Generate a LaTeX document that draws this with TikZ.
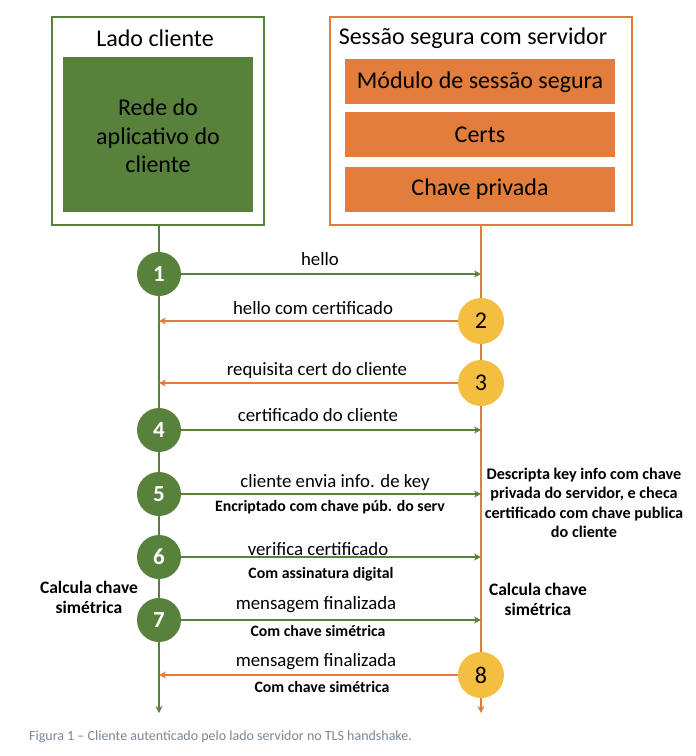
\documentclass[tikz,border=0pt]{standalone}
\usepackage{fontspec}
\setmainfont{Carlito}
\usetikzlibrary{arrows.meta}
\definecolor{cgreen}{HTML}{58813C}
\definecolor{corange}{HTML}{E27D3C}
\definecolor{cyellow}{HTML}{F4BE41}
\definecolor{ccap}{HTML}{7A8898}
\tikzset{
  gcircle/.style={circle, fill=cgreen, minimum size=44pt, inner sep=0pt, text=white, font=\bfseries\fontsize{23}{23}\selectfont},
  ycircle/.style={circle, fill=cyellow, minimum size=46pt, inner sep=0pt, text=black, font=\fontsize{24}{24}\selectfont},
  garrow/.style={draw=cgreen, line width=1.8pt, -{Stealth[length=7pt,width=7pt]}},
  oarrow/.style={draw=corange, line width=1.8pt, -{Stealth[length=7pt,width=7pt]}},
  msg/.style={font=\fontsize{18.8}{20}\selectfont, inner sep=0pt},
  sub/.style={font=\bfseries\fontsize{15.8}{18}\selectfont, inner sep=0pt},
  note/.style={font=\bfseries\fontsize{16.2}{19.3}\selectfont, align=center, inner sep=0pt},
  note2/.style={font=\bfseries\fontsize{17.5}{20}\selectfont, align=center, inner sep=0pt},
  big/.style={font=\fontsize{24}{28.5}\selectfont, align=center, inner sep=0pt},
}
\begin{document}
\begin{tikzpicture}[x=1pt,y=-1pt]
\useasboundingbox (0,0) rectangle (696,756);
\fill[white] (0,0) rectangle (696,756);
% boxes
\draw[cgreen, line width=2pt] (52,17) rectangle (264,225);
\fill[cgreen] (63,57) rectangle (253,212);
\node[big] (ltitle) at (155,38) {Lado cliente};
\node[big] (lapp) at (158,136) {Rede do\\aplicativo do\\cliente};
\draw[corange, line width=2pt] (330,17) rectangle (632,225);
\node[big] (rtitle) at (473,38) {Sessão segura com servidor};
\fill[corange] (345,59) rectangle (615,104);
\node[big] (mod) at (480,82) {Módulo de sessão segura};
\fill[corange] (345,112) rectangle (615,157);
\node[big] (certs) at (480,135) {Certs};
\fill[corange] (345,167) rectangle (615,212);
\node[big] (chave) at (480,189) {Chave privada};
% lifelines
\coordinate (ltop) at (159,226);
\coordinate (lbot) at (159,713);
\coordinate (rtop) at (481,226);
\coordinate (rbot) at (481,713);
\draw[cgreen, line width=2pt, -{Stealth[length=7pt,width=7pt]}] (ltop) -- (lbot);
\draw[corange, line width=2pt, -{Stealth[length=7pt,width=7pt]}] (rtop) -- (rbot);
% circles
\node[gcircle] (c1) at (159,274) {1};
\node[ycircle] (c2) at (481,321) {2};
\node[ycircle] (c3) at (481,383) {3};
\node[gcircle] (c4) at (159,430) {4};
\node[gcircle] (c5) at (159,494) {5};
\node[gcircle] (c6) at (159,557) {6};
\node[gcircle] (c7) at (159,620) {7};
\node[ycircle] (c8) at (481,675) {8};
% arrows
\draw[garrow] (c1) -- (c1 -| rtop);
\draw[oarrow] (c2) -- (c2 -| ltop);
\draw[oarrow] (c3) -- (c3 -| ltop);
\draw[garrow] (c4) -- (c4 -| rtop);
\draw[garrow] (c5) -- (c5 -| rtop);
\draw[garrow] (c6) -- (c6 -| rtop);
\draw[garrow] (c7) -- (c7 -| rtop);
\draw[oarrow] (c8) -- (c8 -| ltop);
% labels
\node[msg] (m1) at (320,259) {hello};
\node[msg] (m2) at (313,308) {hello com certificado};
\node[msg] (m3) at (317,370) {requisita cert do cliente};
\node[msg] (m4) at (318,415) {certificado do cliente};
\node[msg] (m5) at (335,482) {cliente envia info. de key};
\node[sub] (s5) at (330,507) {Encriptado com chave púb. do serv};
\node[msg] (m6) at (318,549) {verifica certificado};
\node[sub] (s6) at (321,574) {Com assinatura digital};
\node[msg] (m7) at (316,605) {mensagem finalizada};
\node[sub] (s7) at (318,631) {Com chave simétrica};
\node[msg] (m8) at (316,662) {mensagem finalizada};
\node[sub] (s8) at (322,687) {Com chave simétrica};
\node[note] (nr) at (584,503) {Descripta key info com chave\\privada do servidor, e checa\\certificado com chave publica\\do cliente};
\node[note2] (nl) at (89,597) {Calcula chave\\simétrica};
\node[note2] (nr2) at (538,599) {Calcula chave\\simétrica};
\node[anchor=west, text=ccap, font=\fontsize{14}{16}\selectfont, inner sep=0pt] (cap) at (29,737) {Figura 1 – Cliente autenticado pelo lado servidor no TLS handshake.};
\end{tikzpicture}
\end{document}
